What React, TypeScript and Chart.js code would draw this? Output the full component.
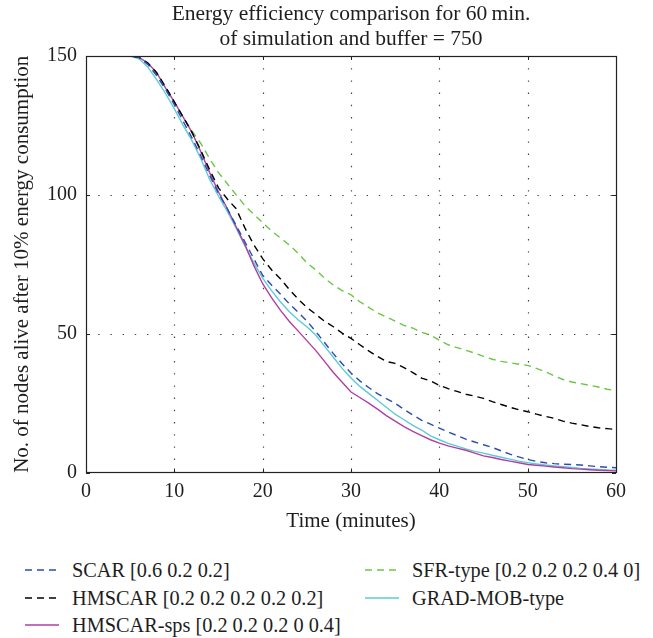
import React, { useEffect, useRef } from "react";
import { Chart, registerables } from "chart.js";

Chart.register(...registerables);

const minutes = [
  0, 1, 2, 3, 4, 5, 6, 7, 8, 9, 10, 11, 12, 13, 14, 15, 16, 17, 18, 19, 20,
  21, 22, 23, 24, 25, 26, 27, 28, 29, 30, 31, 32, 33, 34, 35, 36, 37, 38, 39, 40,
  41, 42, 43, 44, 45, 46, 47, 48, 49, 50, 51, 52, 53, 54, 55, 56, 57, 58, 59, 60,
];

const scar = [
  150, 150, 150, 150, 150, 150, 149.5, 147, 143, 138, 132.5,
  126.5, 120.5, 114, 107, 100.5, 95, 89, 83, 77, 71,
  67.5, 64.3, 60.8, 57.8, 54.6, 50.8, 46.8, 42.8, 39.2, 35.8,
  33, 30.6, 28.4, 26.6, 24.9, 22.7, 20.7, 18.8, 17.4, 16,
  14.6, 13.3, 12, 11, 10, 9, 7.8, 6.6, 5.6, 4.7,
  4, 3.5, 3.2, 3, 2.9, 2.7, 2.4, 2.1, 1.9, 1.7,
];

const hmscar = [
  150, 150, 150, 150, 150, 150, 149.5, 147.5, 144, 139, 133.5,
  128, 122.5, 116, 109, 102.5, 98.5, 95, 88, 82, 77,
  73, 69.8, 66, 62.5, 59.5, 57, 54.5, 52.5, 50.2, 48.3,
  46, 43.8, 41.8, 40, 39.3, 37.8, 36, 34, 33, 31.4,
  30.2, 29.2, 28.2, 27.5, 26.7, 25.5, 24.5, 23.5, 22.6, 21.9,
  21, 20.2, 19.5, 18.5, 17.8, 17.2, 16.6, 16.1, 15.8, 15.5,
];

const hmscarSps = [
  150, 150, 150, 150, 150, 150, 149.5, 147.5, 144, 138.5, 133.5,
  128, 122.5, 115.5, 108, 101, 95, 88.5, 82, 74.5, 68,
  63, 58.5, 54.5, 51, 47.5, 44, 40, 36, 32.5, 29,
  27, 25, 22.8, 20.5, 18.5, 16.5, 14.8, 13.3, 11.8, 10.6,
  9.6, 8.8, 8, 7, 6, 5.4, 4.7, 4.1, 3.5, 2.9,
  2.6, 2.3, 2, 1.7, 1.4, 1.2, 1, 0.8, 0.7, 0.6,
];

const sfrType = [
  150, 150, 150, 150, 150, 150, 149.5, 147, 143, 138, 133,
  128, 123, 118.5, 113, 108, 104, 100, 96, 93, 90,
  87, 84.5, 82, 79, 75.5, 73, 70, 67.5, 65.5, 64,
  61.5, 59.5, 57.5, 56, 54.5, 53, 52, 50.5, 49.5, 47.6,
  46, 45, 44, 43, 41.8, 40.8, 40, 39.5, 39, 38.6,
  37.5, 36.3, 34.8, 33.5, 32.6, 32, 31.4, 30.8, 30, 29.5,
];

const gradMob = [
  150, 150, 150, 150, 150, 150, 149, 146, 141.5, 136.5, 131,
  125, 119.5, 113, 105.5, 99.5, 94, 88, 81.5, 75.5, 70,
  65.5, 61.5, 58, 55, 52.5, 49.5, 45.5, 41.5, 37.5, 34,
  31, 28.5, 26, 23.5, 21, 19, 17, 15.3, 13.2, 11.8,
  10.5, 9.5, 8.5, 7.6, 7, 6.2, 5.5, 4.8, 4.1, 3.5,
  3.1, 2.7, 2.4, 2.1, 1.8, 1.5, 1.3, 1.1, 0.9, 0.8,
];

const seriesLabels = [
  "SCAR [0.6 0.2 0.2]",
  "HMSCAR [0.2 0.2 0.2 0.2 0.2]",
  "HMSCAR-sps [0.2 0.2 0.2 0 0.4]",
  "SFR-type [0.2 0.2 0.2 0.4 0]",
  "GRAD-MOB-type",
];
const seriesValues = [scar, hmscar, hmscarSps, sfrType, gradMob];
const seriesColors = ["#2b4cb2", "#000000", "#b13fa2", "#6cc645", "#5ccbd8"];
const seriesDashed = [true, true, false, true, false];

const titleLines = ["Energy efficiency comparison for 60\u2009min.", "of simulation and buffer = 750"];
const xTitle = "Time (minutes)";
const yTitle = "No. of nodes alive after 10% energy consumption";
const xTicks = [0, 10, 20, 30, 40, 50, 60];
const yTicks = [0, 50, 100, 150];

const FONT = "'Liberation Serif', 'Times New Roman', serif";
const TEXT = "#1e1e1e";
const DASH = [7, 5];

const framePlugin = {
  id: "frameGrid",
  beforeDatasetsDraw(chart: any) {
    const { ctx, chartArea, scales } = chart;
    const { left, right, top, bottom } = chartArea;
    const xs = scales.x;
    const ys = scales.y;
    ctx.save();
    ctx.strokeStyle = "#444";
    ctx.lineWidth = 1.2;
    ctx.setLineDash([1.4, 10.8]);
    xTicks.forEach((v) => {
      if (v <= xs.min || v >= xs.max) return;
      const px = Math.round(xs.getPixelForValue(v)) + 0.5;
      ctx.beginPath();
      ctx.moveTo(px, top);
      ctx.lineTo(px, bottom);
      ctx.stroke();
    });
    yTicks.forEach((v) => {
      if (v <= ys.min || v >= ys.max) return;
      const py = Math.round(ys.getPixelForValue(v)) + 0.5;
      ctx.beginPath();
      ctx.moveTo(left, py);
      ctx.lineTo(right, py);
      ctx.stroke();
    });
    ctx.restore();
  },
  afterDatasetsDraw(chart: any) {
    const { ctx, chartArea, scales } = chart;
    const { left, right, top, bottom } = chartArea;
    const xs = scales.x;
    const ys = scales.y;
    const tl = 4;
    ctx.save();
    ctx.setLineDash([]);
    ctx.strokeStyle = "#222";
    ctx.lineWidth = 1.2;
    ctx.strokeRect(Math.round(left) + 0.5, Math.round(top) + 0.5, Math.round(right - left), Math.round(bottom - top));
    ctx.lineWidth = 1;
    xTicks.forEach((v) => {
      const px = Math.round(xs.getPixelForValue(v)) + 0.5;
      ctx.beginPath();
      ctx.moveTo(px, bottom);
      ctx.lineTo(px, bottom - tl);
      ctx.moveTo(px, top);
      ctx.lineTo(px, top + tl);
      ctx.stroke();
    });
    yTicks.forEach((v) => {
      const py = Math.round(ys.getPixelForValue(v)) + 0.5;
      ctx.beginPath();
      ctx.moveTo(left, py);
      ctx.lineTo(left + tl, py);
      ctx.moveTo(right, py);
      ctx.lineTo(right - tl, py);
      ctx.stroke();
    });
    ctx.restore();
  },
};

const legendRowTops = [556, 583.5, 611];
const legendColLefts = [25, 365];

function LegendSample({ color, dashed }: { color: string; dashed: boolean }) {
  return (
    <svg width={34} height={4} style={{ display: "block", flex: "none" }}>
      <line
        x1={0}
        y1={2}
        x2={34}
        y2={2}
        stroke={color}
        strokeWidth={1.4}
        strokeDasharray={dashed ? DASH.join(" ") : undefined}
      />
    </svg>
  );
}

export default function App() {
  const canvasRef = useRef<HTMLCanvasElement | null>(null);

  useEffect(() => {
    if (!canvasRef.current) return;
    const datasets = seriesLabels.map((label, i) => ({
      label,
      data: minutes.map((m, j) => ({ x: m, y: seriesValues[i][j] })),
      borderColor: seriesColors[i],
      backgroundColor: seriesColors[i],
      borderWidth: 1.4,
      borderDash: seriesDashed[i] ? DASH : [],
      pointRadius: 0,
      tension: 0,
      fill: false,
    }));
    const chart = new Chart(canvasRef.current, {
      type: "line",
      data: { datasets },
      options: {
        animation: false,
        responsive: false,
        maintainAspectRatio: false,
        layout: { padding: { left: 0, right: 37, top: 0, bottom: 0 } },
        plugins: {
          legend: { display: false },
          tooltip: { enabled: false },
          title: {
            display: true,
            text: titleLines,
            color: TEXT,
            fullSize: false,
            font: { family: FONT, size: 21.5, weight: "normal", lineHeight: 1.163 },
            padding: { top: 2, bottom: 4 },
          },
        },
        scales: {
          x: {
            type: "linear",
            min: 0,
            max: 60,
            afterBuildTicks: (s: any) => {
              s.ticks = xTicks.map((v) => ({ value: v }));
            },
            afterFit: (s: any) => {
              s.height = 72.5;
            },
            ticks: {
              color: TEXT,
              font: { family: FONT, size: 20 },
              padding: 7,
              maxRotation: 0,
              autoSkip: false,
            },
            grid: { display: false, drawTicks: false },
            border: { display: false },
            title: {
              display: true,
              text: xTitle,
              color: TEXT,
              font: { family: FONT, size: 21 },
              padding: { top: 0, bottom: 11.4 },
            },
          },
          y: {
            type: "linear",
            min: 0,
            max: 150,
            afterBuildTicks: (s: any) => {
              s.ticks = yTicks.map((v) => ({ value: v }));
            },
            afterFit: (s: any) => {
              s.width = 86;
            },
            ticks: {
              color: TEXT,
              font: { family: FONT, size: 20 },
              padding: 9,
              autoSkip: false,
            },
            grid: { display: false, drawTicks: false },
            border: { display: false },
            title: {
              display: true,
              text: yTitle,
              color: TEXT,
              font: { family: FONT, size: 21 },
              padding: { top: 9.4, bottom: 0 },
            },
          },
        },
      },
      plugins: [framePlugin],
    });
    return () => chart.destroy();
  }, []);

  return (
    <div
      style={{
        position: "absolute",
        left: 0,
        top: 0,
        width: 653,
        height: 638,
        background: "#ffffff",
        overflow: "hidden",
      }}
    >
      <canvas ref={canvasRef} width={653} height={545} style={{ display: "block", width: 653, height: 545 }} />
      {seriesLabels.map((label, i) => {
        const col = i < 3 ? 0 : 1;
        const row = i < 3 ? i : i - 3;
        return (
          <div
            key={label}
            style={{
              position: "absolute",
              left: legendColLefts[col],
              top: legendRowTops[row],
              height: 28,
              display: "flex",
              alignItems: "center",
              whiteSpace: "nowrap",
              fontFamily: FONT,
              fontSize: 20.3,
              lineHeight: "28px",
              color: TEXT,
            }}
          >
            <LegendSample color={seriesColors[i]} dashed={seriesDashed[i]} />
            <span style={{ marginLeft: 13 }}>{label}</span>
          </div>
        );
      })}
    </div>
  );
}
